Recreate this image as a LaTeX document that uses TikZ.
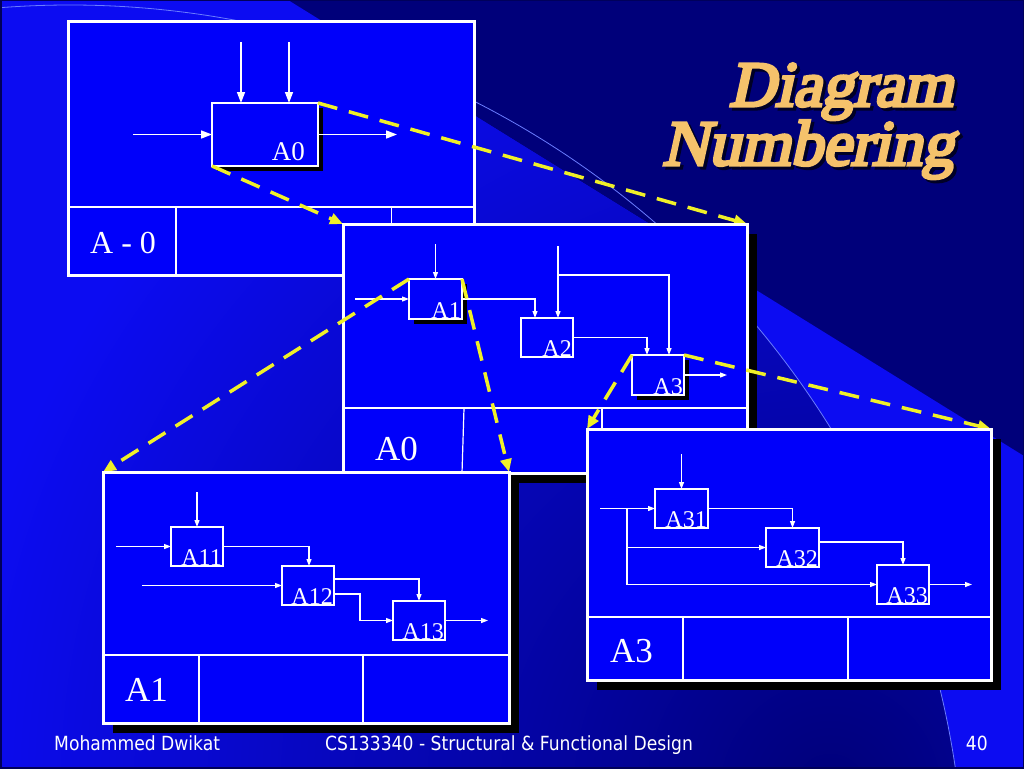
\documentclass[tikz,border=0pt]{standalone}
\usepackage{fontspec}
\setmainfont{Liberation Serif}
\newfontfamily\footfont[FakeStretch=0.88]{DejaVu Sans}
\newfontfamily\titlefont[FakeSlant=0.22,FakeBold=5]{Liberation Serif}
\usetikzlibrary{arrows.meta,shadows,calc}
\definecolor{navybg}{HTML}{00007A}
\definecolor{brightbg}{HTML}{0C0CF2}
\definecolor{sheetblue}{HTML}{0000FA}
\definecolor{titlegold}{HTML}{F5C26B}
\definecolor{dashyellow}{HTML}{F0F028}
\definecolor{arcblue}{HTML}{6A7CFF}
\definecolor{edgenavy}{HTML}{00005A}
\begin{document}
\begin{tikzpicture}[x=1pt,y=-1pt,line join=miter,
  sheet/.style={draw=white,line width=3pt,fill=sheetblue,inner sep=0pt,outer sep=0pt},
  sheetshadow/.style={drop shadow={shadow xshift=10pt,shadow yshift=-10pt,fill=black,opacity=1}},
  proc/.style={draw=white,line width=1.5pt,fill=sheetblue,inner sep=0pt,outer sep=0pt,minimum width=52pt,minimum height=39pt},
  procshadow/.style={drop shadow={shadow xshift=5pt,shadow yshift=-5pt,fill=black,opacity=1}},
  divider/.style={white,line width=2pt},
  flow/.style={white,line width=1.2pt,-{Triangle[length=7pt,width=5pt]}},
  bigflow/.style={white,line width=1.5pt,-{Triangle[length=11pt,width=8pt]}},
  zoomline/.style={dashyellow,line width=3.5pt,dash pattern=on 20pt off 12pt,-{Triangle[length=13pt,width=11pt]}},
  plabel/.style={font=\fontsize{24}{24}\selectfont,text=white,inner sep=0pt,anchor=base east},
  sheetlabel/.style={font=\fontsize{35}{35}\selectfont,text=white,inner sep=0pt,anchor=base west},
  footlabel/.style={font=\footfont\fontsize{19.5}{20}\selectfont,text=white,inner sep=0pt},
  titletext/.style={anchor=base east,inner sep=0pt,font=\titlefont\fontsize{64}{64}\selectfont}
]
\useasboundingbox (0,0) rectangle (1024,768);
% ---------- background ----------
\fill[navybg] (0,0) rectangle (1024,768);
\begin{scope}
  \clip (288,0) -- (1024,456) -- (1024,768) -- (0,768) -- (0,0) -- cycle;
  \fill[brightbg] (0,0) rectangle (1024,768);
  \clip (70,900) circle (895);
  \shade[inner color=navybg,outer color=brightbg] (830,790) circle (880);
\end{scope}
\begin{scope}
  \clip (0,0) rectangle (1024,768);
  \draw[arcblue,line width=0.8pt] (70,900) circle (895);
\end{scope}
\draw[edgenavy,line width=3pt] (0,0) rectangle (1024,768);

% ---------- title ----------
\node[titletext,text=black!85!blue] (t1s) at (956,109) {Diagram};
\node[titletext,text=black!85!blue] (t2s) at (957,168) {Numbering};
\node[titletext,text=titlegold] (t1) at (953,106) {Diagram};
\node[titletext,text=titlegold] (t2) at (954,165) {Numbering};

% ---------- A-0 sheet ----------
\node[sheet,minimum width=406pt,minimum height=253pt] (s00) at (271,148.5) {};
\draw[divider] (68,207) -- (474,207);
\draw[divider] (176,207) -- (176,275);
\draw[white,line width=1pt] (391,207) -- (391,275);
\node[sheetlabel,font=\fontsize{32}{32}\selectfont] (s00lab) at (90,253) {A - 0};
\node[proc,procshadow,minimum width=106pt,minimum height=63pt,line width=2pt] (p0) at (265,134.5) {};
\node[plabel,font=\fontsize{27}{27}\selectfont] (p0lab) at ([xshift=-13pt,yshift=6pt]p0.south east) {A0};
\coordinate (c0a) at (241,42);
\coordinate (c0b) at (289,42);
\coordinate (i0) at (133,134.5);
\coordinate (o0) at (397,134.5);
\draw[bigflow] (c0a) -- (c0a |- p0.north);
\draw[bigflow] (c0b) -- (c0b |- p0.north);
\draw[bigflow] (i0) -- (p0.west);
\draw[bigflow] (p0.east) -- (o0);

% ---------- A0 sheet ----------
\node[sheet,sheetshadow,minimum width=404pt,minimum height=249pt] (s0) at (545,348.5) {};
\draw[zoomline] (p0.north east) -- (s0.north east);
\draw[zoomline] (p0.south west) -- (s0.north west);
\node[sheet,minimum width=404pt,minimum height=249pt] (s0top) at (545,348.5) {};
\draw[divider] (343,408) -- (747,408);
\draw[white,line width=1.2pt] (464,408) -- (462,473);
\draw[white,line width=1.2pt] (602,408) -- (602,473);
\node[sheetlabel] (s0lab) at (375,460) {A0};
\node[proc,procshadow,minimum width=53pt,minimum height=40pt] (a1) at (435.5,299) {};
\node[proc] (a2) at (547,337.5) {};
\node[proc,procshadow,minimum height=40pt] (a3) at (658,375) {};
\node[plabel] (a1lab) at ([xshift=-1pt,yshift=1pt]a1.south east) {A1};
\node[plabel] (a2lab) at ([xshift=-1pt,yshift=1pt]a2.south east) {A2};
\node[plabel] (a3lab) at ([xshift=-1pt,yshift=1pt]a3.south east) {A3};
\coordinate (ca1) at (435.5,244);
\coordinate (ia1) at (355,299);
\coordinate (ctl) at (558,246);
\coordinate (ctlb) at (558,275);
\coordinate (oa3) at (727,375);
\draw[flow] (ca1) -- (a1.north);
\draw[flow] (ia1) -- (a1.west);
\draw[flow] (a1.east) -| ([xshift=-12pt]a2.north);
\draw[flow] (ctl) -- ([xshift=11pt]a2.north);
\draw[flow] (ctlb) -| ([xshift=11pt]a3.north);
\draw[flow] (a2.east) -| ([xshift=-11pt]a3.north);
\draw[flow] (a3.east) -- (oa3);

% ---------- zoom lines to lower sheets ----------
\coordinate (s1nw) at (103,472);
\coordinate (s1ne) at (509,472);
\coordinate (s3nw) at (587,429);
\coordinate (s3ne) at (991,429);
\draw[zoomline] (a1.north west) -- (s1nw);
\draw[zoomline] (a1.north east) -- (s1ne);
\draw[zoomline] (a3.north west) -- (s3nw);
\draw[zoomline] (a3.north east) -- (s3ne);

% ---------- A1 sheet ----------
\node[sheet,sheetshadow,minimum width=406pt,minimum height=251pt] (s1) at (306,597.5) {};
\draw[divider] (103,655) -- (509,655);
\draw[divider] (199,655) -- (199,723);
\draw[divider] (363,655) -- (363,723);
\node[sheetlabel] (s1lab) at (125,701) {A1};
\node[proc] (a11) at (197,546.5) {};
\node[proc] (a12) at (308,585.5) {};
\node[proc] (a13) at (419,620.5) {};
\node[plabel] (a11lab) at ([xshift=-1pt,yshift=1pt]a11.south east) {A11};
\node[plabel] (a12lab) at ([xshift=-1pt,yshift=1pt]a12.south east) {A12};
\node[plabel] (a13lab) at ([xshift=-1pt,yshift=1pt]a13.south east) {A13};
\coordinate (ca11) at (197,492);
\coordinate (ia11) at (116,546.5);
\coordinate (ia12) at (142,585.5);
\coordinate (oa13) at (488,620.5);
\draw[flow] (ca11) -- (a11.north);
\draw[flow] (ia11) -- (a11.west);
\draw[flow] (a11.east) -| ([xshift=1pt]a12.north);
\draw[flow] (ia12) -- (a12.west);
\draw[flow] ([yshift=6.5pt]a12.east) -| (a13.north);
\draw[flow] ([yshift=-8.5pt]a12.east) -- ++(26,0) |- (a13.west);
\draw[flow] (a13.east) -- (oa13);

% ---------- A3 sheet ----------
\node[sheet,sheetshadow,minimum width=404pt,minimum height=251pt] (s3) at (789,554.5) {};
\draw[divider] (587,617) -- (991,617);
\draw[divider] (683,617) -- (683,680);
\draw[divider] (848,617) -- (848,680);
\node[sheetlabel] (s3lab) at (610,662) {A3};
\node[proc,minimum width=53pt] (a31) at (681.5,508.5) {};
\node[proc,minimum width=53pt] (a32) at (792.5,547.5) {};
\node[proc] (a33) at (903,584.5) {};
\node[plabel] (a31lab) at ([xshift=-1pt,yshift=1pt]a31.south east) {A31};
\node[plabel] (a32lab) at ([xshift=-1pt,yshift=1pt]a32.south east) {A32};
\node[plabel] (a33lab) at ([xshift=-1pt,yshift=1pt]a33.south east) {A33};
\coordinate (ca31) at (681.5,454);
\coordinate (ia31) at (600,508.5);
\coordinate (br3) at (627,508.5);
\coordinate (oa33) at (972,584.5);
\draw[flow] (ca31) -- (a31.north);
\draw[flow] (ia31) -- (a31.west);
\draw[flow] (br3) |- (a32.west);
\draw[flow] (br3) |- (a33.west);
\draw[flow] (a31.east) -| (a32.north);
\draw[flow] ([yshift=5.5pt]a32.east) -| (a33.north);
\draw[flow] (a33.east) -- (oa33);

% ---------- footer ----------
\node[footlabel,anchor=base west] (f1) at (54,750) {Mohammed Dwikat};
\node[footlabel,anchor=base west] (f2) at (325,750) {CS133340 - Structural \& Functional Design};
\node[footlabel,anchor=base east] (f3) at (988,750) {40};
\end{tikzpicture}
\end{document}
